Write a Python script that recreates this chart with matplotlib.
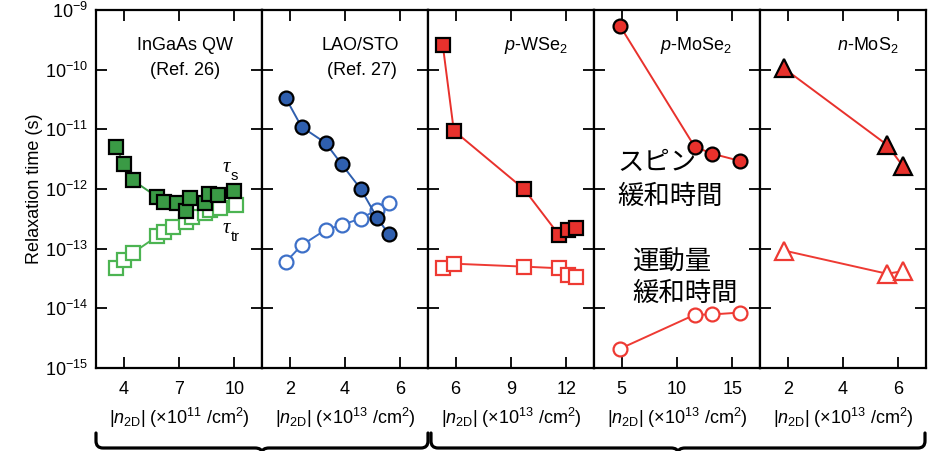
import matplotlib
matplotlib.use("Agg")
import matplotlib.pyplot as plt
from matplotlib.path import Path
from matplotlib.patches import PathPatch
from matplotlib.ticker import LogLocator, NullLocator, FixedLocator

plt.rcParams['font.family'] = ['Liberation Sans', 'DejaVu Sans']
plt.rcParams['mathtext.fontset'] = 'custom'
plt.rcParams['mathtext.rm'] = 'Liberation Sans'
plt.rcParams['mathtext.it'] = 'Liberation Sans:italic'
plt.rcParams['mathtext.bf'] = 'Liberation Sans:bold'

# ---------------- data ----------------
# Panel 1: InGaAs QW (x in 1e11 /cm2)
ingaas_s_x = [3.6, 4.0, 4.5, 5.8, 6.2, 6.9, 7.4, 7.6, 8.4, 8.6, 9.1, 10.0]
ingaas_s_y = [5.1e-12, 2.6e-12, 1.4e-12, 7.4e-13, 6.1e-13, 5.9e-13, 4.2e-13,
              7.0e-13, 5.8e-13, 8.3e-13, 8.0e-13, 9.3e-13]
ingaas_tr_x = [3.6, 4.0, 4.5, 5.8, 6.2, 6.7, 7.4, 7.7, 8.4, 8.7, 9.2, 10.1]
ingaas_tr_y = [4.8e-14, 6.5e-14, 8.5e-14, 1.6e-13, 1.9e-13, 2.3e-13, 2.8e-13,
               3.4e-13, 3.9e-13, 4.5e-13, 4.8e-13, 5.4e-13]

# Panel 2: LAO/STO (x in 1e13 /cm2)
lao_x = [1.85, 2.43, 3.30, 3.88, 4.57, 5.16, 5.58]
lao_s = [3.4e-11, 1.1e-11, 5.9e-12, 2.6e-12, 1.0e-12, 3.3e-13, 1.75e-13]
lao_tr = [5.9e-14, 1.14e-13, 2.07e-13, 2.5e-13, 3.2e-13, 4.5e-13, 5.9e-13]

# Panel 3: p-WSe2
wse_x = [5.3, 5.9, 9.7, 11.6, 12.1, 12.5]
wse_s = [2.6e-10, 9.5e-12, 1.0e-12, 1.7e-13, 2.07e-13, 2.2e-13]
wse_tr = [4.7e-14, 5.6e-14, 5.0e-14, 4.7e-14, 3.6e-14, 3.3e-14]

# Panel 4: p-MoSe2
mose_x = [4.85, 11.6, 13.2, 15.7]
mose_s = [5.4e-10, 5.1e-12, 3.9e-12, 2.95e-12]
mose_tr = [2.1e-15, 7.8e-15, 7.9e-15, 8.5e-15]

# Panel 5: n-MoS2
mos_x = [1.87, 5.59, 6.17]
mos_s = [1.05e-10, 5.5e-12, 2.4e-12]
mos_tr = [9.3e-14, 3.8e-14, 4.2e-14]

x_ticks = [[4, 7, 10], [2, 4, 6], [6, 9, 12], [5, 10, 15], [2, 4, 6]]
x_lims = [(2.5, 11.5), (1, 7), (4.5, 13.5), (2.5, 17.5), (1, 7)]
x_exps = ['11', '13', '13', '13', '13']

green_f, green_o = '#3a9a45', '#4cb452'
blue_f, blue_o = '#2f5fae', '#3d70c8'
red_f, red_o = '#e8312c', '#ee3a33'

# ---------------- figure ----------------
W, H = 938, 451
fig = plt.figure(figsize=(W / 100, H / 100), dpi=100)
left, right = 96 / W, 926 / W
bottom, top = 1 - 368 / H, 1 - 10 / H
gs = fig.add_gridspec(1, 5, left=left, right=right, bottom=bottom, top=top, wspace=0)
axes = [fig.add_subplot(gs[0, i]) for i in range(5)]

FS = 13
lw = 1.4
mew = 1.6

def series(ax, x, y, color, marker, ms, filled, z):
    if filled:
        ax.plot(x, y, '-', color=color, lw=lw, marker=marker, ms=ms,
                mfc=color, mec='black', mew=mew, zorder=z)
    else:
        ax.plot(x, y, '-', color=color, lw=lw, marker=marker, ms=ms,
                mfc='white', mec=color, mew=mew, zorder=z)

ax = axes[0]
series(ax, ingaas_tr_x, ingaas_tr_y, green_o, 's', 9.5, False, 3)
series(ax, ingaas_s_x, ingaas_s_y, green_f, 's', 9.5, True, 4)
ax = axes[1]
series(ax, lao_x, lao_tr, blue_o, 'o', 10, False, 3)
series(ax, lao_x, lao_s, blue_f, 'o', 10, True, 4)
ax = axes[2]
series(ax, wse_x, wse_tr, red_o, 's', 10, False, 3)
series(ax, wse_x, wse_s, red_f, 's', 10, True, 4)
ax = axes[3]
series(ax, mose_x, mose_tr, red_o, 'o', 10, False, 3)
series(ax, mose_x, mose_s, red_f, 'o', 10, True, 4)
ax = axes[4]
series(ax, mos_x, mos_tr, red_o, '^', 13, False, 3)
series(ax, mos_x, mos_s, red_f, '^', 13, True, 4)

for i, ax in enumerate(axes):
    ax.set_yscale('log')
    ax.set_ylim(1e-15, 1e-9)
    ax.set_xlim(*x_lims[i])
    ax.xaxis.set_major_locator(FixedLocator(x_ticks[i]))
    ax.yaxis.set_major_locator(LogLocator(base=10, numticks=10))
    ax.yaxis.set_minor_locator(NullLocator())
    ax.xaxis.set_minor_locator(NullLocator())
    ax.tick_params(which='major', direction='in', length=8, width=1.3,
                   top=True, right=True, labelsize=FS, colors='black')
    ax.tick_params(axis='x', pad=9)
    ax.tick_params(axis='y', pad=6)
    for s in ax.spines.values():
        s.set_linewidth(1.6)
    if i > 0:
        ax.tick_params(labelleft=False)
    ax.set_xlabel(r'$|n_{\mathrm{2D}}|$ ($\times$10$^{%s}$ /cm$^{2}$)' % x_exps[i],
                  fontsize=FS, labelpad=6)

axes[0].set_ylabel('Relaxation time (s)', fontsize=FS, labelpad=1)

# panel titles
axes[0].text(0.537, 0.902, 'InGaAs QW', transform=axes[0].transAxes,
             ha='center', va='center', fontsize=FS)
axes[0].text(0.537, 0.832, '(Ref. 26)', transform=axes[0].transAxes,
             ha='center', va='center', fontsize=FS)
axes[1].text(0.59, 0.902, 'LAO/STO', transform=axes[1].transAxes,
             ha='center', va='center', fontsize=FS)
axes[1].text(0.60, 0.832, '(Ref. 27)', transform=axes[1].transAxes,
             ha='center', va='center', fontsize=FS)
axes[2].text(0.65, 0.902, r'$p$-WSe$_2$', transform=axes[2].transAxes,
             ha='center', va='center', fontsize=FS)
axes[3].text(0.613, 0.902, r'$p$-MoSe$_2$', transform=axes[3].transAxes,
             ha='center', va='center', fontsize=FS)
axes[4].text(0.648, 0.902, r'$n$-MoS$_2$', transform=axes[4].transAxes,
             ha='center', va='center', fontsize=FS)

# tau labels (serif italic tau with upright subscripts)
def tau_label(ax, x, y, sub):
    ax.text(x, y, 'τ', transform=ax.transAxes, ha='right', va='center',
            fontsize=15, family=['Liberation Serif', 'DejaVu Serif'], style='italic')
    ax.text(x, y - 0.025, sub, transform=ax.transAxes, ha='left', va='center',
            fontsize=10.5)

tau_label(axes[0], 0.81, 0.56, 's')
tau_label(axes[0], 0.81, 0.39, 'tr')

# Japanese annotations
jp = ['Noto Sans CJK JP', 'DejaVu Sans']
axes[3].text(0.143, 0.573, 'スピン', transform=axes[3].transAxes,
             ha='left', va='center', fontsize=19, family=jp)
axes[3].text(0.143, 0.478, '緩和時間', transform=axes[3].transAxes,
             ha='left', va='center', fontsize=19, family=jp)
axes[3].text(0.232, 0.296, '運動量', transform=axes[3].transAxes,
             ha='left', va='center', fontsize=19, family=jp)
axes[3].text(0.232, 0.209, '緩和時間', transform=axes[3].transAxes,
             ha='left', va='center', fontsize=19, family=jp)

# braces at bottom
def brace(x0, x1, ytop=433, ybot=448, ytip=453, r=7):
    xm = (x0 + x1) / 2
    fx = lambda px: px / W
    fy = lambda py: 1 - py / H
    verts = [(x0, ytop), (x0, ybot - r), (x0, ybot), (x0 + r, ybot),
             (xm - r, ybot), (xm, ybot), (xm, ytip),
             (xm, ybot), (xm + r, ybot),
             (x1 - r, ybot), (x1, ybot), (x1, ybot - r), (x1, ytop)]
    codes = [Path.MOVETO, Path.LINETO, Path.CURVE3, Path.CURVE3,
             Path.LINETO, Path.CURVE3, Path.CURVE3,
             Path.CURVE3, Path.CURVE3,
             Path.LINETO, Path.CURVE3, Path.CURVE3, Path.LINETO]
    verts = [(fx(a), fy(b)) for a, b in verts]
    p = PathPatch(Path(verts, codes), transform=fig.transFigure, fill=False,
                  lw=2.3, edgecolor='black', capstyle='round', joinstyle='round')
    fig.add_artist(p)

brace(96, 428)
brace(431, 925)

fig.savefig('out.png', dpi=100)
